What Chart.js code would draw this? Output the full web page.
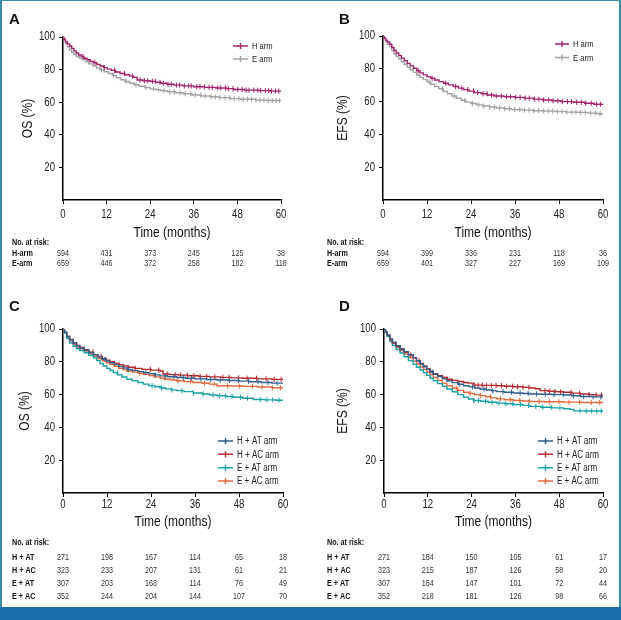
<!DOCTYPE html>
<html>
<head>
<meta charset="utf-8">
<script src="https://cdn.jsdelivr.net/npm/chart.js@4.4.1/dist/chart.umd.min.js"></script>
<style>
  html, body { margin: 0; padding: 0; background: #fff; }
  #page { position: relative; width: 621px; height: 620px; overflow: hidden; background: #fff; }
  #page canvas { position: absolute; }
  .letter { position: absolute; font: bold 15px Arial, 'Liberation Sans', sans-serif; line-height: 15px; color: #111; }
  #frame { position: absolute; left: 0; top: 0; width: 621px; height: 607px; box-sizing: border-box;
           border-left: 2px solid #3b8ea5; border-top: 1px solid #3b8ea5; border-right: 2px solid #3b8ea5; }
  #bar { position: absolute; left: 0; top: 607px; width: 621px; height: 13px; background: #1b6fab; }
</style>
</head>
<body>
<div id="page">
  <div id="frame"></div>
  <canvas id="chartA" width="310" height="300" style="left:0;top:0;width:310px;height:300px"></canvas>
  <canvas id="chartB" width="311" height="300" style="left:310px;top:0;width:311px;height:300px"></canvas>
  <canvas id="chartC" width="310" height="307" style="left:0;top:300px;width:310px;height:307px"></canvas>
  <canvas id="chartD" width="311" height="307" style="left:310px;top:300px;width:311px;height:307px"></canvas>
  <div class="letter" style="left:9px;top:11px">A</div>
  <div class="letter" style="left:339px;top:11px">B</div>
  <div class="letter" style="left:9px;top:298px">C</div>
  <div class="letter" style="left:339px;top:298px">D</div>
  <div id="bar"></div>
</div>
<script>
// time axis (months)
const months = [0, 12, 24, 36, 48, 60];
const yTicks = [20, 40, 60, 80, 100];

// --- A: overall survival, H arm vs E arm  [month, %]
const osH = [[0,100],[0.3,98.5],[0.7,97],[1.2,95.8],[1.8,94.5],[2.4,93],[3,91.5],[3.6,90.2],[4.3,89],[5,88],[5.8,87],[6.6,86],[7.5,85],[8.4,84.2],[9.3,83.2],[10.2,82.2],[11.2,81.2],[12.2,80.3],[13.3,79.5],[14.5,78.5],[15.7,77.6],[17,76.8],[18.3,76],[19.5,75.2],[20.4,73.6],[22,73.2],[24,72.8],[25.5,72.2],[27,71.6],[28.6,71],[30.5,70.5],[33,70],[36,69.5],[39,69.1],[42,68.7],[45,68.3],[47,67.8],[50,67.4],[54,67.1],[57,66.8],[60,66.7]];
const osE = [[0,100],[0.3,98],[0.7,96],[1.2,94],[1.8,92],[2.4,90.5],[3,89.3],[3.7,88],[4.5,87],[5.4,86],[6.3,84.8],[7.2,83.5],[8.2,82.2],[9.2,80.9],[10.2,79.8],[11.3,78.7],[12.5,77.6],[13.6,76.3],[14.7,75],[15.8,73.8],[17,72.7],[18.3,71.6],[19.6,70.7],[21,69.8],[22.5,69],[24,68.2],[25.5,67.6],[27,67],[28.8,66.4],[31,65.8],[33,65.2],[35.5,64.4],[38,63.8],[40.5,63.3],[43,62.8],[46,62.2],[49,61.8],[53,61.3],[56,61],[60,60.7]];
const osHCens = [5.5,8.8,11.4,14.2,16.9,19.1,21.2,22.4,23.3,24.6,25.4,26.7,27.6,28.9,29.8,31.2,32.1,33.4,34.6,35.3,36.8,37.7,38.9,40.2,41.1,42.6,43.4,44.7,45.5,46.8,48.1,49.3,50.4,51.2,52.5,53.6,54.4,55.7,56.6,57.4,58.5,59.4];
const osECens = [7.1,10.6,13.9,17.4,20.1,22.8,24.9,26.3,27.8,29.4,30.6,32.2,33.6,35.1,36.4,37.9,39.1,40.8,41.9,43.2,44.6,45.9,47.1,48.4,49.6,50.8,51.9,53.1,54.2,55.3,56.5,57.6,58.7,59.6];
const riskAH = [594, 431, 373, 245, 125, 38];
const riskAE = [659, 446, 372, 258, 182, 118];

// --- B: event-free survival, H arm vs E arm
const efsH = [[0,100],[0.3,98.8],[0.7,97.5],[1.2,96.3],[1.8,95],[2.4,93],[3,91.2],[3.6,89.6],[4.3,88.2],[5,86.5],[5.8,85],[6.6,83.3],[7.4,81.8],[8.3,80.3],[9.2,78.8],[10.1,77.5],[11,76.3],[12,75.2],[13,74.2],[14.1,73.2],[15.3,72.2],[16.5,71.2],[17.8,70.2],[19.2,69.2],[20.6,68.2],[22,67.3],[23.5,66.4],[25,65.5],[26.8,64.8],[28.5,64],[30.3,63.4],[33,63],[36,62.6],[38.5,62.1],[41,61.5],[43.5,61],[46,60.5],[48.5,60],[52,59.6],[55,59],[57.5,58.4],[60,57.9]];
const efsE = [[0,100],[0.3,98.5],[0.7,96.8],[1.2,95],[1.8,93.5],[2.4,91.2],[3,89.2],[3.6,87.5],[4.3,86],[5,84.3],[5.8,82.8],[6.6,81],[7.4,79.4],[8.3,77.8],[9.2,76.2],[10.1,74.8],[11,73.4],[12,72],[13,70.6],[14.1,69.2],[15.2,67.8],[16.4,66.2],[17.6,64.8],[18.8,63.4],[20,62],[21.3,60.8],[22.6,59.7],[24,58.8],[25.5,58],[27.2,57.3],[29,56.7],[31,56.1],[33,55.6],[35,55.2],[38,54.8],[41,54.4],[44,54.2],[47,53.9],[50,53.6],[53,53.4],[56,53],[58.5,52.6],[60,52.4]];
const efsHCens = [9.6,13.4,17.1,19.8,21.5,23.1,24.7,25.8,27.3,28.4,29.6,30.9,32.3,33.7,34.8,36.2,37.4,38.8,39.9,41.3,42.5,43.8,45.2,46.4,47.7,48.9,50.3,51.4,52.8,54.1,55.3,56.8,58.2,59.3];
const efsECens = [12.6,16.2,19.4,22.3,24.4,26.1,27.5,29.1,30.4,31.8,33.2,34.5,35.9,37.3,38.6,39.8,41.1,42.4,43.7,45.1,46.3,47.6,48.8,50.1,51.5,52.6,53.9,55.2,56.7,57.9,59.2];
const riskBH = [594, 399, 336, 231, 118, 36];
const riskBE = [659, 401, 327, 227, 169, 109];

// --- C: overall survival by regimen
const osHAT = [[0,100],[0.4,98],[1,95.5],[1.8,93.4],[2.8,91.4],[3.7,89.8],[4.6,88.4],[5.8,87],[7,85.7],[8.3,84.4],[9.5,83],[10.7,81.6],[11.8,80.4],[12.8,79.4],[14,78.3],[15.2,77.2],[16.4,76.2],[17.6,75.3],[19,74.6],[20.5,74],[22,73.4],[23.5,72.7],[25,72],[26.5,71.4],[28.5,70.9],[31,70.4],[33.5,70],[36,69.6],[39,69.2],[42,68.9],[45,68.6],[48,68.2],[51,67.8],[54,67.4],[57,67],[60,66.8]];
const osHAC = [[0,100],[0.4,98],[1,95.5],[1.8,93.6],[2.8,91.6],[3.7,90],[4.6,88.8],[5.8,87.4],[7,85.9],[8.3,84.4],[9.5,83.2],[10.7,82],[11.8,81],[12.8,80],[14,79.2],[15.3,78.3],[16.5,77.4],[17.8,76.7],[19.5,76],[21.5,75.4],[24,74.9],[26.5,74.4],[27.3,72.6],[29,72.2],[31.5,71.9],[34,71.5],[37,71.1],[40,70.8],[43,70.5],[46,70.2],[49,70],[53,69.6],[57,69.3],[60,69.2]];
const osEAT = [[0,100],[0.4,97.5],[1,94.4],[1.8,91.5],[2.8,89.4],[3.7,88],[4.6,86.8],[5.8,85.5],[7,84],[8.3,82.4],[9.2,80.7],[10.1,79],[11,77.4],[11.9,76],[12.8,74.7],[13.7,73.4],[14.9,72.1],[16.1,70.7],[17.4,69.4],[18.9,68.4],[20.4,67.4],[21.9,66.4],[23.4,65.5],[25,64.8],[26.5,64],[28,63.5],[29.5,62.9],[31,62.4],[33,61.8],[35.5,61],[38,60.4],[40,59.8],[42,59.3],[44.5,58.8],[46.5,58.4],[49,57.8],[51.9,57],[55,56.8],[58,56.6],[60,56.5]];
const osEAC = [[0,100],[0.4,97.8],[1,94.8],[1.8,92.6],[2.8,90.4],[3.7,89],[4.6,88],[5.8,86.6],[7,85],[8.3,83.4],[9.5,82],[10.7,80.6],[11.8,79.4],[12.8,78.4],[14,77.2],[15.2,76.1],[16.4,75.1],[17.4,74.4],[19,73.7],[20.5,73],[21.9,72.4],[23.5,71.6],[25,70.8],[26.5,70],[28,69.4],[29.5,68.9],[31,68.4],[33,67.9],[35.5,67.4],[38,66.9],[40,66.4],[42,65.4],[45,65.2],[49,65],[53,64.6],[57,64.2],[60,64]];
const osHATCens = [11.5,17.8,22.6,25.3,27.9,30.2,32.8,35.1,37.6,40.3,42.9,45.4,47.8,50.6,53.2,55.9,58.4];
const osHACCens = [8.2,10.4,19.7,23.8,26.1,28.4,30.6,32.1,33.9,35.7,37.4,39.2,41.4,43.6,45.3,47.9,50.2,52.8,55.4,57.6,59.5];
const osEATCens = [14.8,24.3,26.9,29.7,32.4,35.6,38.2,40.9,42.7,44.3,46.1,48.4,50.3,53.8,55.6,57.2,58.9];
const osEACCens = [20.9,24.8,27.6,31.4,34.8,38.6,41.2,44.9,48.1,51.7,54.3,57.1,59.3];
const riskCHAT = [271, 198, 167, 114, 65, 18];
const riskCHAC = [323, 233, 207, 131, 61, 21];
const riskCEAT = [307, 203, 168, 114, 76, 49];
const riskCEAC = [352, 244, 204, 144, 107, 70];

// --- D: event-free survival by regimen
const efsHAC = [[0,100],[0.4,98],[0.9,96],[1.6,93.4],[2.3,91.5],[3.3,89.3],[4.4,87.4],[5.5,85.8],[6.7,84.1],[8,82.4],[8.9,80.7],[9.9,79],[10.8,77.4],[11.7,75.8],[12.6,74.2],[13.5,72.8],[14.7,71.6],[16,70.4],[17.2,69.4],[18.7,68.7],[20.2,68],[21.8,67.4],[23,67],[24.5,65.8],[27,65.6],[30.9,65.4],[33,65.1],[35.5,64.8],[38,64.4],[40,64],[41.5,63.6],[42.8,62.4],[45,62],[47,61.7],[49.2,61.4],[51.5,60.9],[53.8,60.4],[56,60],[58,59.7],[60,59.4]];
const efsHAT = [[0,100],[0.4,98.2],[0.9,96.3],[1.6,94],[2.3,92],[3.3,89.8],[4.4,88],[5.5,86.2],[6.7,84.3],[8,82.4],[8.9,80.6],[9.9,78.7],[10.8,77],[11.7,75.4],[12.6,73.8],[13.5,72.4],[14.7,71],[16,69.6],[17.2,68.4],[18.7,67.3],[20.2,66.3],[21.8,65.4],[23.3,64.7],[24.8,64],[26.3,63.4],[28,62.8],[29.5,62.3],[30.9,61.8],[33,61.4],[35.5,61],[38,60.7],[40,60.4],[43,60.2],[46,60],[49.2,59.8],[51.5,59.3],[53.8,58.8],[57,58.6],[60,58.4]];
const efsEAT = [[0,100],[0.4,97.8],[0.9,95.4],[1.6,92.4],[2.3,90],[3.3,87.5],[4.4,85.4],[5.5,83.1],[6.7,80.7],[8,78.4],[8.9,76.7],[9.9,75],[10.8,73.4],[11.7,71.7],[12.6,70],[13.5,68.4],[14.7,66.7],[16,65],[17.2,63.4],[18.7,61.7],[20.2,60],[21.8,58.4],[23.2,57.3],[24.5,56.4],[26.5,55.9],[28.5,55.3],[30.9,54.8],[33,54.4],[35.5,54],[38,53.4],[40,52.8],[43,52.3],[46,51.9],[49.2,51.4],[51,51],[52,50.1],[55,50],[60,49.8]];
const efsEAC = [[0,100],[0.4,98],[0.9,96],[1.6,93.4],[2.3,91.2],[3.3,88.8],[4.4,86.8],[5.5,84.8],[6.7,82.6],[8,80.4],[8.9,78.7],[9.9,77],[10.8,75.4],[11.7,73.7],[12.6,72],[13.5,70.4],[14.7,68.7],[16,67],[17.2,65.4],[18.7,64],[20.2,62.6],[21.8,61.4],[23.3,60.7],[24.8,60],[26.3,59.4],[27.8,58.7],[29.3,58],[30.9,57.4],[33,56.9],[35.5,56.4],[38,56.1],[40,55.8],[44,55.6],[49.2,55.4],[54,55.2],[60,55]];
const efsHATCens = [13.2,20.6,24.2,27.4,29.8,32.6,34.9,37.3,39.5,41.8,44.2,46.6,49.1,51.9,54.7,57.3,59.4];
const efsHACCens = [7.3,9.6,17.4,24.9,25.8,26.9,28.1,29.4,30.7,32.2,33.6,35.2,36.6,38.1,39.7,44.1,45.4,46.8,48.4,51.2,53.6,56.2,58.1,59.6];
const efsEATCens = [24.7,25.9,27.8,29.6,31.5,33.4,35.3,37.4,39.6,41.6,43.5,45.8,48.2,53.7,55.4,56.9,58.3,59.5];
const efsEACCens = [19.8,23.6,26.4,29.2,31.9,34.6,37.2,39.8,42.5,45.3,47.9,50.7,53.6,56.8,59.1];
const riskDHAT = [271, 184, 150, 105, 61, 17];
const riskDHAC = [323, 215, 187, 126, 58, 20];
const riskDEAT = [307, 184, 147, 101, 72, 44];
const riskDEAC = [352, 218, 181, 126, 98, 66];

const FONT = "'Liberation Sans', Arial, sans-serif";
const COL = { H: '#a3226c', E: '#a2a2a2', HAT: '#2f5f8d', HAC: '#b6282e', EAT: '#1aa2a4', EAC: '#e3693f' };

// survival value at time t
function stepAt(pts, t) {
    let v = pts[0][1];
    for (const p of pts) { if (p[0] <= t) v = p[1]; else break; }
    return v;
}

function curveSets(label, pts, cens, color) {
    return [
        { label: label, data: pts.map(p => ({ x: p[0], y: p[1] })), stepped: 'before',
          borderColor: color, borderWidth: 1.4, pointRadius: 0, fill: false },
        { label: label + ' censored', data: cens.map(t => ({ x: t, y: stepAt(pts, t) })), showLine: false,
          pointStyle: 'line', rotation: 90, pointRadius: 2.6, borderColor: color, borderWidth: 1 }
    ];
}

// the figure uses a condensed face; squeeze Liberation Sans horizontally
function narrowText(ctx, txt, x, y, font, align, color, rot) {
    ctx.save();
    ctx.translate(x, y);
    if (rot) ctx.rotate(rot);
    ctx.scale(0.8, 1);
    ctx.font = font;
    ctx.textAlign = align;
    ctx.textBaseline = 'middle';
    ctx.fillStyle = color;
    ctx.fillText(txt, 0, 0);
    ctx.restore();
}

// axis labels, legend and number-at-risk table
const kmDecor = {
    id: 'kmDecor',
    afterDraw(chart, args, o) {
        const ctx = chart.ctx;
        const xs = chart.scales.x, ys = chart.scales.y, ca = chart.chartArea;
        // tick labels and axis titles
        months.forEach(m => narrowText(ctx, String(m), xs.getPixelForValue(m), o.axis.tickY, '12px ' + FONT, 'center', '#222'));
        yTicks.forEach(v => narrowText(ctx, String(v), ca.left - 8, ys.getPixelForValue(v), '12px ' + FONT, 'right', '#222'));
        narrowText(ctx, 'Time (months)', (ca.left + ca.right) / 2, o.axis.titleY, '15px ' + FONT, 'center', '#111');
        narrowText(ctx, o.axis.yTitle, o.axis.yTitleX, (ca.top + ca.bottom) / 2, '15px ' + FONT, 'center', '#111', -Math.PI / 2);
        // legend
        const curves = chart.data.datasets.filter(d => d.stepped);
        ctx.save();
        curves.forEach((d, i) => {
            const y = o.legend.ys[i];
            ctx.strokeStyle = d.borderColor;
            ctx.lineWidth = 1.4;
            ctx.beginPath();
            ctx.moveTo(o.legend.x1, y); ctx.lineTo(o.legend.x2, y);
            const mx = (o.legend.x1 + o.legend.x2) / 2;
            ctx.moveTo(mx, y - 3); ctx.lineTo(mx, y + 3);
            ctx.stroke();
            narrowText(ctx, d.label, o.legend.tx, y + 0.5, o.legend.size + 'px ' + FONT, 'left', '#222');
        });
        ctx.restore();
        // number at risk
        narrowText(ctx, 'No. at risk:', o.risk.x, o.risk.header, 'bold 9px ' + FONT, 'left', '#111');
        o.risk.rows.forEach((row, i) => {
            const y = o.risk.ys[i];
            narrowText(ctx, o.risk.labels[i], o.risk.x, y, 'bold 9px ' + FONT, 'left', '#111');
            row.forEach((n, j) => narrowText(ctx, String(n), xs.getPixelForValue(months[j]), y, '9px ' + FONT, 'center', '#333'));
        });
    }
};

function makeKM(id, datasets, lay, axis, legend, risk) {
    new Chart(document.getElementById(id), {
        type: 'line',
        data: { datasets: datasets },
        options: {
            responsive: false,
            animation: false,
            devicePixelRatio: 1,
            layout: { padding: { left: 0, top: lay.top, right: lay.right, bottom: lay.bottom } },
            plugins: { legend: { display: false }, tooltip: { enabled: false },
                       kmDecor: { axis: axis, legend: legend, risk: risk } },
            scales: {
                x: {
                    type: 'linear', min: 0, max: 60,
                    afterFit: s => { s.height = lay.xh; },
                    ticks: { stepSize: 12, display: false },
                    grid: { drawOnChartArea: false, drawTicks: true, tickLength: 4, color: '#000' },
                    border: { display: true, color: '#000', width: 1.5 }
                },
                y: {
                    min: 0, max: 100,
                    afterFit: s => { s.width = lay.yw; },
                    ticks: { stepSize: 20, display: false },
                    grid: { drawOnChartArea: false, drawTicks: true, tickLength: 4,
                            tickColor: c => (c.tick && c.tick.value === 0) ? 'rgba(0,0,0,0)' : '#000' },
                    border: { display: true, color: '#000', width: 1.5 }
                }
            }
        },
        plugins: [kmDecor]
    });
}

makeKM('chartA',
    [...curveSets('H arm', osH, osHCens, COL.H), ...curveSets('E arm', osE, osECens, COL.E)],
    { top: 37, right: 29, bottom: 55, xh: 45, yw: 63 },
    { tickY: 215, titleY: 233, yTitle: 'OS (%)', yTitleX: 28 },
    { x1: 233, x2: 248, tx: 252, ys: [46, 59], size: 9.5 },
    { x: 12, header: 243, ys: [254, 263.5], labels: ['H-arm', 'E-arm'], rows: [riskAH, riskAE] });

makeKM('chartB',
    [...curveSets('H arm', efsH, efsHCens, COL.H), ...curveSets('E arm', efsE, efsECens, COL.E)],
    { top: 36, right: 18, bottom: 55, xh: 45, yw: 73 },
    { tickY: 215, titleY: 233, yTitle: 'EFS (%)', yTitleX: 33 },
    { x1: 245, x2: 259, tx: 263, ys: [44, 57.5], size: 9.5 },
    { x: 17, header: 243, ys: [254, 263.5], labels: ['H-arm', 'E-arm'], rows: [riskBH, riskBE] });

makeKM('chartC',
    [...curveSets('H + AT arm', osHAT, osHATCens, COL.HAT), ...curveSets('H + AC arm', osHAC, osHACCens, COL.HAC),
     ...curveSets('E + AT arm', osEAT, osEATCens, COL.EAT), ...curveSets('E + AC arm', osEAC, osEACCens, COL.EAC)],
    { top: 29, right: 27, bottom: 73, xh: 41, yw: 63 },
    { tickY: 205, titleY: 222, yTitle: 'OS (%)', yTitleX: 25 },
    { x1: 218, x2: 233, tx: 237, ys: [141, 154.3, 167.7, 181], size: 10 },
    { x: 12, header: 242.7, ys: [257.7, 270.7, 284, 297],
      labels: ['H + AT', 'H + AC', 'E + AT', 'E + AC'], rows: [riskCHAT, riskCHAC, riskCEAT, riskCEAC] });

makeKM('chartD',
    [...curveSets('H + AT arm', efsHAT, efsHATCens, COL.HAT), ...curveSets('H + AC arm', efsHAC, efsHACCens, COL.HAC),
     ...curveSets('E + AT arm', efsEAT, efsEATCens, COL.EAT), ...curveSets('E + AC arm', efsEAC, efsEACCens, COL.EAC)],
    { top: 29, right: 18, bottom: 73, xh: 41, yw: 74 },
    { tickY: 205, titleY: 222, yTitle: 'EFS (%)', yTitleX: 33 },
    { x1: 228, x2: 243, tx: 247, ys: [141, 154.3, 167.7, 181], size: 10 },
    { x: 17, header: 242.7, ys: [257.7, 270.7, 284, 297],
      labels: ['H + AT', 'H + AC', 'E + AT', 'E + AC'], rows: [riskDHAT, riskDHAC, riskDEAT, riskDEAC] });
</script>
</body>
</html>
